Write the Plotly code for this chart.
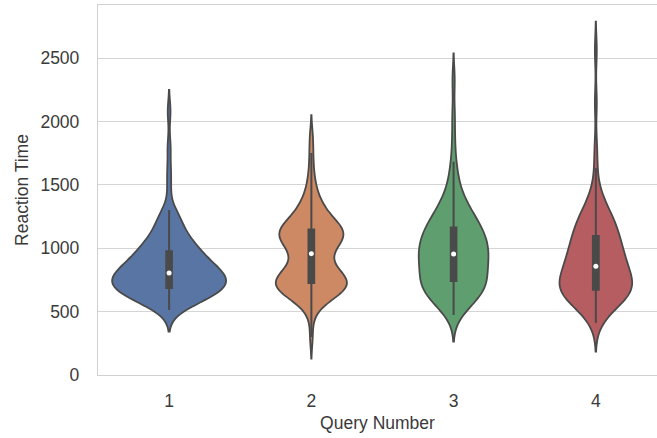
import numpy as np
import plotly.graph_objects as go

# ---- data (reaction times per query, read/estimated from the picture) ----
queries = ["1", "2", "3", "4"]

q1_times = [512, 528, 545, 556, 567, 578, 588, 597, 604, 610, 616, 622, 629, 635, 641, 647,
            652, 656, 660, 664, 668, 672, 676, 680, 684,
            689, 694, 699, 704, 709, 714, 719, 724, 729, 734, 739, 744, 749,
            754, 758, 763, 767, 772, 776, 781, 785, 790, 794, 798, 802,
            807, 812, 818, 823, 829, 834, 840, 845, 850, 857, 864, 871, 878, 885, 892, 899,
            907, 915, 923, 931, 939, 947, 955, 963, 972,
            980, 990, 1000, 1010, 1020, 1030, 1040, 1050, 1062, 1078, 1094, 1110, 1126, 1142,
            1160, 1185, 1210, 1235, 1260, 1280, 1301, 1480, 1620, 1800, 2078]

q2_times = [300, 470, 530, 565, 590, 604, 612, 620, 628, 636, 644, 651, 658, 665, 671,
            677, 683, 689, 695, 700, 705, 710, 715, 719, 723,
            728, 735, 741, 747, 753, 759, 765, 771, 777, 783, 790, 797, 804, 812, 820,
            829, 839, 850, 865, 882, 898, 913, 927, 940, 952,
            962, 975, 988, 1000, 1012, 1023, 1033, 1042, 1050, 1058, 1065, 1072, 1078,
            1084, 1090, 1096, 1102, 1108, 1114, 1120, 1126, 1131, 1136, 1140, 1143,
            1150, 1159, 1168, 1177, 1186, 1195, 1205, 1215, 1226, 1237, 1248,
            1262, 1278, 1294, 1310, 1327, 1343, 1370, 1405, 1440, 1478, 1545, 1630, 1750, 1880]

q3_times = [473, 505, 530, 545, 560, 572, 585, 597, 608, 619, 630, 640, 648,
            656, 664, 672, 680, 688, 696, 703, 710, 717, 724, 731, 738,
            746, 755, 764, 773, 782, 791, 800, 809, 818, 828, 838, 847,
            856, 864, 872, 880, 888, 896, 904, 912, 920, 928, 936, 943, 950,
            957, 965, 973, 981, 989, 997, 1005, 1013, 1021, 1029, 1038, 1047, 1056,
            1064, 1072, 1080, 1088, 1096, 1104, 1112, 1120, 1129, 1138, 1148, 1158,
            1168, 1179, 1190, 1201, 1212, 1224, 1236, 1248, 1260, 1273, 1286, 1299,
            1315, 1340, 1365, 1390, 1415, 1440, 1480, 1540, 1610, 1682, 1850, 2050, 2327]

q4_times = [410, 450, 480, 505, 520, 535, 548, 560, 571, 581, 591, 600, 608,
            616, 623, 630, 636, 642, 647, 652, 656, 660, 664, 667, 670,
            676, 683, 690, 697, 704, 711, 718, 725, 732, 739, 746, 753, 760,
            768, 776, 784, 792, 800, 808, 816, 824, 832, 840, 847, 854,
            862, 871, 880, 889, 898, 907, 916, 925, 934, 943, 952, 961, 970,
            980, 990, 1000, 1010, 1020, 1030, 1040, 1050, 1060, 1070, 1080, 1091,
            1100, 1120, 1131, 1142, 1153, 1164, 1175, 1187, 1199, 1211, 1224, 1238,
            1253, 1268, 1285, 1305, 1328, 1355, 1385, 1420, 1480, 1632, 1800, 2150, 2560]

all_times = [q1_times, q2_times, q3_times, q4_times]

# ---- styles ----
fill_colors = ["#5875a4", "#cc8963", "#5f9e6e", "#b55d60"]
bandwidths = [85, 85, 105, 113]
violin_widths = [0.8, 0.5, 0.49, 0.51]
box_widths = [0.05, 0.08, 0.08, 0.08]
edge = "#4a4a4a"

fig = go.Figure()
for q, t, fc, bw, w, bxw in zip(queries, all_times, fill_colors, bandwidths, violin_widths, box_widths):
    fig.add_trace(go.Violin(
        x=[q] * len(t), y=t, name=q,
        fillcolor=fc, line=dict(color=edge, width=1.8),
        bandwidth=bw, spanmode="soft", width=w, scalemode="width",
        points="outliers", marker=dict(size=0, opacity=0),
        box=dict(visible=True, width=bxw, fillcolor=edge, line=dict(color=edge, width=2)),
        meanline=dict(visible=False), showlegend=False, hoverinfo="skip",
    ))

medians = [float(np.median(t)) for t in all_times]
fig.add_trace(go.Scatter(
    x=queries, y=medians, mode="markers",
    marker=dict(color="white", size=5, line=dict(width=0)),
    showlegend=False, hoverinfo="skip",
))

font_family = "Liberation Sans, Arial, sans-serif"
fig.update_layout(
    width=657, height=438,
    margin=dict(l=98, r=0, t=5, b=63),
    paper_bgcolor="white", plot_bgcolor="white",
    font=dict(family=font_family, size=17.5, color="#3a3a3a"),
    violinmode="overlay",
)
fig.update_xaxes(
    type="category", categoryorder="array", categoryarray=queries,
    range=[-0.5, 3.43],
    showgrid=False, showline=True, linecolor="#d0d0d0", linewidth=1.3, mirror=True,
    ticks="", ticklabelstandoff=10,
    title=dict(text="Query Number", standoff=6, font=dict(size=17.5, color="#3a3a3a")),
    zeroline=False,
)
fig.update_yaxes(
    range=[0, 2918], tickvals=[0, 500, 1000, 1500, 2000, 2500],
    showgrid=True, gridcolor="#d5d5d5", gridwidth=1.3,
    showline=True, linecolor="#d0d0d0", linewidth=1.3, mirror=True,
    ticks="", ticklabelstandoff=14,
    title=dict(text="Reaction Time", standoff=7, font=dict(size=17.5, color="#3a3a3a")),
    zeroline=False,
)

fig.write_html("out.html")
